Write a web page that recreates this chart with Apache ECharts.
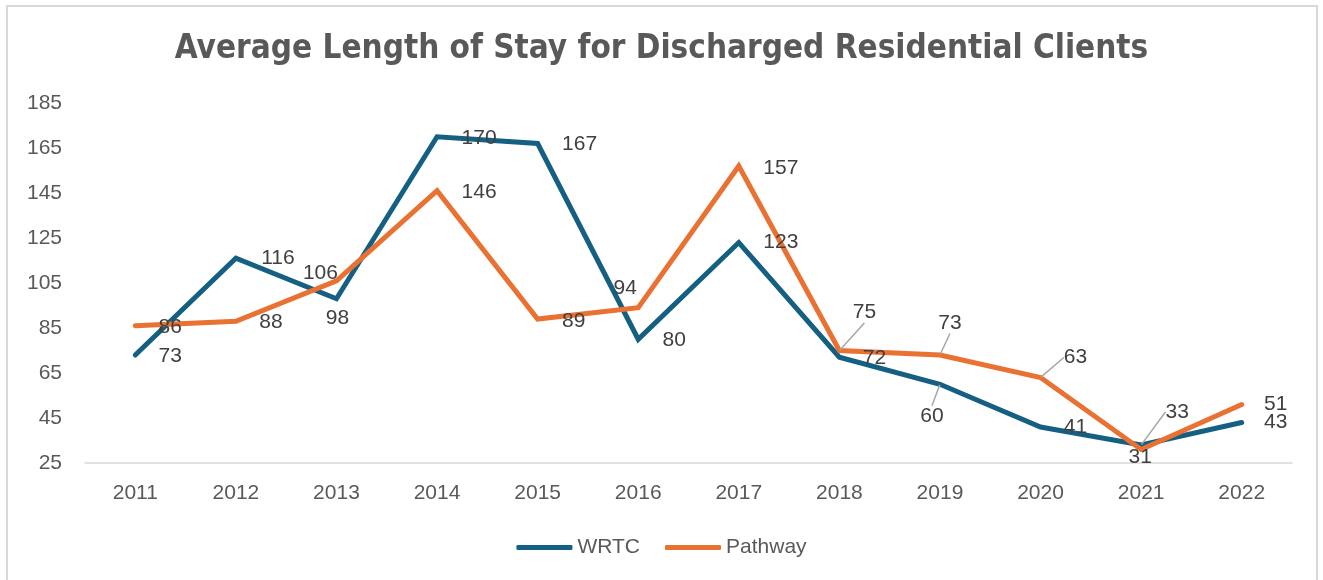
<!DOCTYPE html>
<html>
<head>
<meta charset="utf-8">
<script src="https://cdn.jsdelivr.net/npm/echarts@6/dist/echarts.min.js"></script>
<style>
  html, body { margin: 0; padding: 0; background: #ffffff; }
  #chart { width: 1323px; height: 580px; }
  #frame { position: absolute; left: 6px; top: 5px; width: 1312px; height: 590px;
           border: 2px solid #d9d9d9; pointer-events: none; box-sizing: border-box; }
</style>
</head>
<body>
<div id="chart"></div>
<div id="frame"></div>
<script>
// ---- data ----
const years = ['2011','2012','2013','2014','2015','2016','2017','2018','2019','2020','2021','2022'];
const wrtc = [73, 116, 98, 170, 167, 80, 123, 72, 60, 41, 33, 43];
const pathway = [86, 88, 106, 146, 89, 94, 157, 75, 73, 63, 31, 51];
const titleText = 'Average Length of Stay for Discharged Residential Clients';

// ---- label placement (styling) : offset of label centre from point ----
const wrtcLabelOffsets = [[35,1],[42,0],[1,19],[42,1],[42,1],[36,1],[42,0],[35,1],[-8,32],[35,0],[36,-33],[34,0]];
const pathwayLabelOffsets = [[35,1],[35,1],[-16,-8],[42,1],[36,2],[-13,-20],[42,2],[25,-38],[10,-32],[35,-20],[-1,8],[34,0]];
const wrtcLeaders = [8, 10];
const pathwayLeaders = [7, 8, 9];

const FONT = "'Liberation Sans', Arial, sans-serif";
const BLUE = '#156082';
const ORANGE = '#E97132';

function buildData(values, leaders) {
  return values.map((v, i) => {
    const item = { value: v };
    if (leaders.indexOf(i) >= 0) {
      item.labelLine = { show: true, lineStyle: { color: '#a6a6a6', width: 1.5 } };
    }
    return item;
  });
}

function layoutFor(offsets) {
  return function (params) {
    const o = offsets[params.dataIndex];
    const cx = params.rect.x + params.rect.width / 2;
    const cy = params.rect.y + params.rect.height / 2;
    return { x: cx + o[0], y: cy + o[1], align: 'center', verticalAlign: 'middle' };
  };
}

const labelStyle = { show: true, position: 'inside', color: '#404040', fontSize: 21, fontFamily: FONT };

function lineSeries(name, values, color, z) {
  return {
    name: name, type: 'line', data: values,
    showSymbol: false, symbol: 'none',
    lineStyle: { color: color, width: 5, cap: 'round', join: 'miter' },
    itemStyle: { color: color },
    z: z
  };
}

function labelSeries(name, values, color, offsets, leaders) {
  return {
    name: name, type: 'line', data: buildData(values, leaders),
    symbol: 'circle', symbolSize: 1, showSymbol: true,
    lineStyle: { opacity: 0, width: 0 },
    itemStyle: { color: color },
    label: labelStyle,
    labelLayout: layoutFor(offsets),
    labelLine: { show: false },
    silent: true,
    z: 10
  };
}

const chart = echarts.init(document.getElementById('chart'), null, { renderer: 'canvas' });
chart.setOption({
  animation: false,
  backgroundColor: '#ffffff',
  title: {
    text: titleText,
    left: 'center',
    top: 28,
    textStyle: { color: '#595959', fontSize: 33, fontWeight: 'bold',
                 fontFamily: "'Liberation Sans Narrow', 'DejaVu Sans Condensed', sans-serif" }
  },
  legend: {
    bottom: 17,
    left: 'center',
    itemWidth: 56,
    itemHeight: 5,
    itemGap: 25,
    icon: 'roundRect',
    textStyle: { color: '#595959', fontSize: 21, fontFamily: FONT },
    data: ['WRTC', 'Pathway']
  },
  grid: { left: 85, right: 31, top: 103, bottom: 117, containLabel: false },
  xAxis: {
    type: 'category',
    data: years,
    boundaryGap: true,
    axisLine: { lineStyle: { color: '#d9d9d9', width: 1.5 } },
    axisTick: { show: false },
    axisLabel: { color: '#595959', fontSize: 21, fontFamily: FONT, margin: 20 }
  },
  yAxis: {
    type: 'value',
    min: 25,
    max: 185,
    interval: 20,
    axisLine: { show: false },
    axisTick: { show: false },
    splitLine: { show: false },
    axisLabel: { color: '#595959', fontSize: 21, fontFamily: FONT, margin: 23 }
  },
  series: [
    lineSeries('WRTC', wrtc, BLUE, 2),
    lineSeries('Pathway', pathway, ORANGE, 3),
    labelSeries('WRTC values', wrtc, BLUE, wrtcLabelOffsets, wrtcLeaders),
    labelSeries('Pathway values', pathway, ORANGE, pathwayLabelOffsets, pathwayLeaders)
  ]
});
</script>
</body>
</html>
